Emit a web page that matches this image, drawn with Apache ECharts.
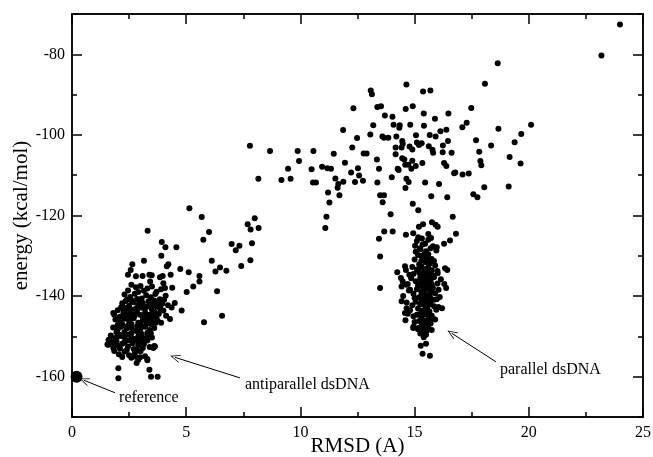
<!DOCTYPE html>
<html>
<head>
<meta charset="utf-8">
<script src="https://cdn.jsdelivr.net/npm/echarts@6/dist/echarts.min.js"></script>
<style>
html,body{margin:0;padding:0;background:#fff;}
#chart{width:653px;height:457px;}
</style>
</head>
<body>
<div id="chart"></div>
<script>
// ---- axis ticks ----
const xMajorTicks = [0, 5, 10, 15, 20, 25];
const xMinorTicks = [2.5, 7.5, 12.5, 17.5, 22.5];
const yMajorTicks = [-160, -140, -120, -100, -80];
const yMinorTicks = [-170, -150, -130, -110, -90, -70];

// ---- data: [RMSD (A), energy (kcal/mol)] ----
const referencePoint = [[0.2, -160]];

const scattered = [
[23.99,-72.6],[23.18,-80.3],[18.64,-82.2],[14.64,-87.5],[18.08,-87.3],[13.08,-89.0],[13.13,-89.9],[15.37,-89.2],[15.69,-89.0],
[12.32,-93.4],[13.37,-93.1],[13.53,-92.9],[14.61,-93.6],[14.92,-92.9],[17.48,-93.3],[13.70,-95.2],[14.03,-95.5],[15.40,-94.7],[16.48,-94.7],[15.89,-96.0],[17.28,-97.0],[17.09,-98.1],[13.19,-97.6],[14.08,-97.5],[14.35,-97.6],[14.33,-98.2],[14.81,-97.5],[15.41,-97.7],[18.67,-98.5],[20.10,-97.5],[11.87,-98.8],[13.06,-99.9],[13.59,-100.4],[13.66,-100.7],[13.85,-100.7],[14.20,-100.4],[12.48,-100.8],[15.06,-100.1],[15.66,-100.0],[15.92,-100.4],[16.13,-99.1],[16.39,-98.7],[16.46,-101.5],[17.69,-101.3],[19.38,-101.8],[19.67,-99.8],
[12.27,-103.1],[14.17,-103.1],[14.46,-101.5],[14.48,-102.2],[14.43,-103.1],[14.78,-102.9],[14.90,-103.6],[15.10,-101.9],[15.19,-102.5],[15.31,-102.1],[15.62,-102.8],[15.78,-103.7],[15.81,-104.4],[16.24,-102.6],[16.23,-104.3],[16.62,-104.4],[18.35,-102.6],[17.83,-104.2],[19.16,-105.5],[19.64,-107.1],
[7.79,-102.7],[8.67,-104.0],[9.88,-104.0],[10.57,-104.0],[9.94,-106.5],[11.46,-104.7],[12.77,-104.6],[12.90,-104.6],[11.95,-106.9],[13.35,-106.1],[14.17,-104.8],[14.46,-105.8],[14.55,-106.1],[14.90,-106.4],[15.34,-107.0],[14.59,-107.4],[14.73,-107.4],[15.05,-107.7],[14.86,-108.4],[14.26,-108.4],[14.30,-108.7],[13.44,-108.4],[16.29,-107.0],[16.39,-107.7],[16.78,-109.3],[16.73,-109.5],[17.10,-109.8],[17.37,-109.6],[17.88,-106.5],[17.92,-107.5],
[9.46,-108.4],[10.49,-108.5],[10.95,-107.9],[11.18,-108.3],[11.34,-108.4],[12.22,-109.3],[12.52,-108.3],[12.57,-110.1],[9.17,-111.2],[9.57,-110.9],[10.55,-111.8],[10.68,-111.8],[11.53,-110.8],[11.88,-111.6],[12.39,-111.7],[12.74,-111.4],[11.66,-112.2],[11.63,-113.1],[11.71,-115.0],[11.21,-114.3],[11.27,-116.8],[11.14,-120.3],[11.09,-123.1],
[13.37,-111.8],[14.00,-110.5],[14.64,-110.9],[14.74,-111.7],[14.60,-113.2],[15.46,-111.8],[16.07,-112.2],[15.73,-115.2],[16.43,-115.5],[13.49,-115.0],[13.66,-115.0],[13.60,-116.7],[13.95,-119.7],[14.92,-117.1],[15.16,-118.7],[16.67,-120.3],[17.57,-114.7],[17.75,-115.5],[18.05,-113.0],[19.12,-112.8],
[15.19,-122.8],[15.37,-122.2],[15.76,-121.7],[15.92,-122.3],[16.01,-122.8],
[8.16,-110.9],[5.14,-118.2],[5.68,-120.4],[6.00,-124.1],[5.75,-126.0],[7.69,-122.2],[8.00,-120.7],[7.82,-123.5],[8.17,-123.1],[7.88,-126.9],[6.99,-127.1],[7.33,-127.5],[7.17,-128.6],[6.12,-131.2],[7.81,-131.1],[7.41,-132.5],[6.48,-132.9],[6.28,-133.9],[6.76,-133.7],[5.58,-135.0],[5.11,-134.1],[4.74,-133.3],[3.93,-126.6],[4.09,-127.9],[4.57,-127.9],[3.91,-130.0],[4.32,-134.7],[4.15,-132.6],[4.22,-132.1],[3.97,-135.0],[3.85,-135.3],[3.49,-134.8],
[6.35,-138.8],[5.78,-146.5],[6.57,-144.9],[5.58,-136.4],[5.31,-137.6],[5.02,-139.0],[4.39,-137.9],[4.07,-138.0],[4.80,-143.6],[4.50,-141.7],[4.36,-142.8],[4.29,-145.7],[4.12,-144.9],[4.03,-140.9],[3.85,-142.6],[4.00,-136.8],[3.42,-136.4],
[3.15,-131.2],[2.64,-132.1],[2.57,-133.5],[2.45,-134.7],[2.80,-135.1],[3.09,-135.0],[3.31,-123.8],[3.39,-134.7],
[13.44,-125.8],[13.67,-124.0],[14.04,-124.0],[14.62,-124.8],[14.94,-124.4],[15.16,-125.4],[15.32,-125.7],[15.60,-124.6],[15.72,-125.6],[15.02,-127.5],[15.24,-128.1],[15.46,-127.0],[15.97,-127.9],[16.29,-127.0],[16.55,-126.2],[16.81,-124.5],[13.49,-130.2],[13.49,-138.0],[14.58,-132.6],[14.24,-134.1],[14.62,-133.5],[14.77,-134.7],[14.48,-136.4],[14.43,-137.6],[14.65,-137.2],[14.80,-138.4],[16.33,-133.1],[16.43,-133.5],[16.38,-138.0],[16.01,-134.3]
];

const antiparallelCluster = [
[2.6,-137.2],[2.8,-137.8],[3.0,-137.5],[3.3,-138.1],[3.5,-137.6],[2.45,-138.6],[3.7,-138.9],[3.9,-138.3],[2.9,-139.0],[3.15,-138.7],
[2.3,-139.6],[2.55,-140.2],[2.75,-139.4],[3.05,-140.6],[3.25,-139.8],[3.45,-140.3],[3.65,-139.5],[3.85,-140.8],[4.1,-139.9],[2.95,-141.0],[3.6,-141.1],[2.4,-140.9],
[2.2,-141.8],[2.5,-142.4],[2.7,-141.5],[2.9,-142.2],[3.1,-141.7],[3.3,-142.6],[3.5,-142.0],[3.7,-142.5],[3.95,-141.9],[2.35,-142.9],[3.2,-143.0],[4.2,-142.3],[2.8,-143.1],
[2.0,-143.5],[2.25,-144.2],[2.45,-143.7],[2.65,-144.5],[2.85,-143.9],[3.0,-144.7],[3.2,-144.1],[3.4,-144.6],[3.6,-143.8],[3.8,-144.4],[4.0,-143.6],[2.55,-145.0],[3.3,-145.1],[1.85,-144.6],
[1.9,-145.8],[2.1,-146.4],[2.3,-145.6],[2.5,-146.2],[2.7,-145.5],[2.9,-146.6],[3.1,-145.9],[3.3,-146.3],[3.5,-145.7],[3.75,-146.1],[2.2,-147.0],[2.6,-146.9],[3.0,-147.1],[3.45,-146.9],[3.9,-146.6],
[1.8,-147.8],[2.0,-148.3],[2.15,-147.6],[2.4,-148.0],[2.6,-147.9],[2.8,-148.6],[3.0,-148.1],[3.2,-147.6],[3.4,-148.4],[3.6,-147.9],[2.3,-148.9],[2.9,-149.0],[3.3,-149.1],[1.95,-149.0],
[1.7,-149.8],[1.9,-150.4],[2.1,-149.6],[2.3,-150.2],[2.5,-149.5],[2.7,-150.6],[2.9,-150.0],[3.1,-150.5],[3.3,-149.8],[3.5,-150.3],[2.4,-151.0],[2.85,-151.1],[1.6,-150.9],
[1.55,-152.0],[1.8,-151.6],[2.0,-152.3],[2.2,-151.8],[2.45,-152.5],[2.65,-151.7],[2.9,-152.2],[3.15,-151.9],[3.4,-152.6],[3.6,-152.4],[2.1,-153.0],[2.7,-153.1],
[1.85,-153.6],[2.05,-154.4],[2.3,-153.8],[2.5,-154.7],[2.75,-154.2],[3.0,-153.7],[3.2,-154.9],[2.6,-155.3],[3.3,-155.6],[2.9,-155.8],[2.2,-155.1],
[2.03,-157.9],[2.03,-160.4],[2.83,-156.6],[3.39,-158.3],[3.46,-160.0],[3.75,-160.0],[2.98,-155.2],[3.30,-155.9],[2.76,-155.0],
[1.59,-152.1],[1.81,-152.9],[1.66,-150.8],[1.81,-144.2],[2.25,-143.4],[3.63,-152.5],[3.56,-152.9],
[2.35,-141.2],[2.6,-141.0],[2.85,-140.7],[3.35,-141.3],[3.75,-141.6],[2.15,-142.8],[2.6,-143.3],[3.05,-142.9],[3.5,-143.3],[3.85,-143.1],[2.1,-145.1],[2.4,-144.9],[2.75,-144.8],[3.15,-145.2],[3.55,-144.9],[2.0,-147.2],[2.45,-147.3],[2.85,-147.5],[3.25,-147.0],[3.65,-146.7],[2.15,-149.9],[2.6,-149.3],[3.05,-149.4],[3.45,-149.2],[1.95,-151.2],[2.3,-151.4],[2.55,-150.9],[3.0,-151.3],[3.3,-151.0],[2.4,-153.4],[2.85,-153.5],[3.1,-152.9],[2.0,-150.0],[3.7,-145.2]
];

const parallelCluster = [
[15.1,-126.3],[15.35,-127.2],[15.6,-126.0],[15.8,-127.6],[15.25,-128.4],[15.5,-128.9],[15.7,-128.1],[15.95,-128.7],[15.05,-129.0],
[15.15,-129.8],[15.4,-130.3],[15.6,-129.6],[15.75,-130.8],[15.3,-131.2],[15.5,-131.6],[15.85,-131.3],[15.0,-130.9],[15.65,-132.0],[15.2,-132.1],[15.45,-129.4],
[14.9,-132.8],[15.1,-133.4],[15.3,-132.6],[15.45,-133.9],[15.6,-132.9],[15.75,-133.6],[15.9,-132.4],[15.35,-134.6],[15.55,-134.8],[15.2,-134.2],[15.8,-134.9],[16.0,-133.8],[14.95,-134.5],
[14.85,-135.6],[15.05,-136.3],[15.25,-135.4],[15.4,-136.8],[15.55,-135.9],[15.7,-136.5],[15.85,-135.3],[16.0,-136.9],[15.15,-137.4],[15.35,-137.8],[15.6,-137.3],[15.8,-137.9],[16.15,-135.8],[14.7,-137.0],[15.5,-136.2],
[14.75,-138.6],[14.95,-139.4],[15.1,-138.3],[15.3,-139.1],[15.45,-138.5],[15.6,-139.7],[15.75,-138.8],[15.9,-139.3],[16.05,-138.4],[15.2,-140.3],[15.4,-140.8],[15.55,-140.1],[15.7,-140.6],[15.0,-140.5],[15.85,-140.9],[16.1,-140.2],
[14.65,-141.6],[14.9,-142.3],[15.05,-141.4],[15.25,-142.0],[15.4,-141.7],[15.55,-142.6],[15.7,-141.9],[15.85,-142.5],[15.15,-143.1],[15.35,-143.6],[15.5,-143.2],[15.65,-143.8],[15.95,-143.4],[14.8,-143.5],
[14.7,-144.4],[14.95,-145.0],[15.1,-144.6],[15.3,-145.3],[15.45,-144.5],[15.6,-145.6],[15.75,-144.9],[15.2,-146.2],[15.4,-146.6],[15.55,-146.1],[15.7,-146.8],[15.0,-146.4],[15.9,-145.8],
[14.95,-147.6],[15.15,-148.2],[15.3,-147.4],[15.45,-148.6],[15.6,-147.9],[15.75,-148.4],[15.25,-149.3],[15.5,-149.6],[15.4,-150.2],
[15.27,-152.3],[15.50,-151.8],[15.35,-154.3],[15.67,-154.8],[15.45,-149.3],
[14.5,-140.0],[16.3,-137.0],[14.6,-146.0],[16.2,-143.0],[14.4,-135.5],[16.04,-142.7],[15.97,-140.8],[15.82,-145.7],[14.94,-147.9],[15.16,-147.9],[15.38,-147.7],[14.43,-141.3],[14.65,-143.0],[14.58,-144.2],
[15.3,-130.0],[15.55,-130.9],[15.7,-131.5],[15.25,-133.0],[15.5,-133.3],[15.65,-134.3],[15.3,-135.9],[15.45,-135.1],[15.7,-135.8],[15.25,-136.9],[15.5,-137.6],[15.75,-137.1],[15.35,-138.8],[15.55,-138.2],[15.7,-139.3],[15.3,-140.0],[15.5,-141.2],[15.65,-140.3],[15.3,-141.5],[15.45,-142.3],[15.65,-142.1],[15.3,-144.0],[15.5,-144.1],[15.65,-145.0],[15.35,-145.9],[15.5,-147.2],[15.6,-146.4],[15.35,-148.9],[15.55,-148.5],[15.45,-131.2],[15.45,-139.8],[15.55,-143.0]
];

// ---- annotations (data coordinates) ----
const arrowStarts = [[1.88, -163.98], [7.36, -160.3], [18.56, -156.3]];
const arrowEnds   = [[0.53, -160.9], [4.51, -155.2], [16.62, -149.2]];
const labelTexts  = ['reference', 'antiparallel dsDNA', 'parallel dsDNA'];
const labelAnchors = [[2.06, -165.2], [7.57, -162.1], [18.74, -158.2]];

const FONT = '"Liberation Serif", "DejaVu Serif", serif';
const chart = echarts.init(document.getElementById('chart'), null, {renderer: 'canvas'});

function xAx(pos, ticks, len, labels) {
  return {
    type: 'value', min: 0, max: 25, position: pos, gridIndex: 0,
    axisLine: {show: true, onZero: false, lineStyle: {color: '#000', width: 1.5}},
    axisTick: {show: true, inside: true, length: len, customValues: ticks, lineStyle: {color: '#000', width: 1.5}},
    axisLabel: labels ? {show: true, customValues: ticks, color: '#000', fontFamily: FONT, fontSize: 16, margin: 8} : {show: false},
    splitLine: {show: false},
    name: labels ? 'RMSD (A)' : '', nameLocation: 'middle', nameGap: 19, nameMoveOverlap: false,
    nameTextStyle: {color: '#000', fontFamily: FONT, fontSize: 21}
  };
}
function yAx(pos, ticks, len, labels) {
  return {
    type: 'value', min: -170, max: -70, position: pos, gridIndex: 0,
    axisLine: {show: true, onZero: false, lineStyle: {color: '#000', width: 1.5}},
    axisTick: {show: true, inside: true, length: len, customValues: ticks, lineStyle: {color: '#000', width: 1.5}},
    axisLabel: labels ? {show: true, customValues: ticks, color: '#000', fontFamily: FONT, fontSize: 16, margin: 7} : {show: false},
    splitLine: {show: false},
    name: labels ? 'energy (kcal/mol)' : '', nameLocation: 'middle', nameGap: 40, nameMoveOverlap: false,
    nameTextStyle: {color: '#000', fontFamily: FONT, fontSize: 21}
  };
}

const dotStyle = {color: '#000', opacity: 1};
const DOT = 6;
chart.setOption({
  animation: false,
  backgroundColor: '#fff',
  grid: {left: 72, right: 10, top: 14, bottom: 40, containLabel: false, outerBoundsMode: 'none'},
  xAxis: [
    xAx('bottom', xMajorTicks, 10, true),
    xAx('bottom', xMinorTicks, 5, false),
    xAx('top', xMajorTicks, 10, false),
    xAx('top', xMinorTicks, 5, false)
  ],
  yAxis: [
    yAx('left', yMajorTicks, 10, true),
    yAx('left', yMinorTicks, 5, false),
    yAx('right', yMajorTicks, 10, false),
    yAx('right', yMinorTicks, 5, false)
  ],
  series: [
    {type: 'scatter', name: 'scattered', data: scattered, symbolSize: DOT, itemStyle: dotStyle, silent: true},
    {type: 'scatter', name: 'antiparallel', data: antiparallelCluster, symbolSize: DOT, itemStyle: dotStyle, silent: true},
    {type: 'scatter', name: 'parallel', data: parallelCluster, symbolSize: DOT, itemStyle: dotStyle, silent: true},
    {type: 'scatter', name: 'reference', data: referencePoint, symbolSize: 12, itemStyle: dotStyle, silent: true,
     markLine: {
       silent: true, animation: false,
       symbol: ['none', 'path://M0,10 L5,0 L10,10 L9,10 L5,2 L1,10 Z'], symbolSize: [8, 10],
       label: {show: false},
       lineStyle: {color: '#000', width: 1, type: 'solid', opacity: 1},
       data: arrowStarts.map((s, i) => [{coord: s}, {coord: arrowEnds[i]}])
     }}
  ]
});

const graphics = labelTexts.map((t, i) => {
  const p = chart.convertToPixel({gridIndex: 0}, labelAnchors[i]);
  return {
    type: 'text', x: p[0], y: p[1], silent: true,
    style: {text: t, fill: '#000', font: '16px ' + FONT, textAlign: 'left', textVerticalAlign: 'middle'}
  };
});
chart.setOption({graphic: graphics});
</script>
</body>
</html>
